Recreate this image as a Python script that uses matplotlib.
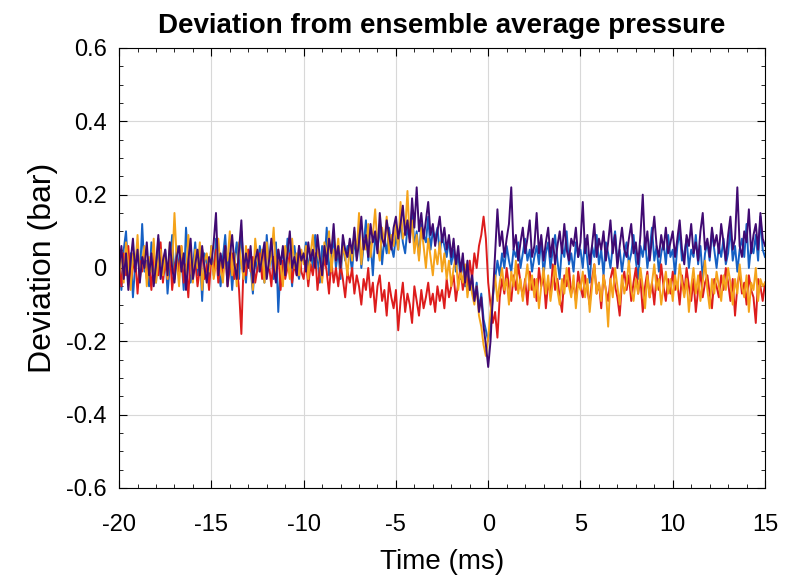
import numpy as np
import matplotlib
matplotlib.use("Agg")
import matplotlib.pyplot as plt
from matplotlib.ticker import MultipleLocator

plt.rcParams['font.family'] = ['Liberation Sans', 'DejaVu Sans']

# one sample every 0.125 ms, values in hundredths of a bar
time_ms = np.linspace(-20, 15, 281)

blue_c = [
    3, -6, 5, 10, -2, 4, -8, 1, 6, -3, 12, -1, 2, -5, 7, 0, -4, 8, 3, -2,
    5, -7, 1, 9, -3, 6, -1, 3, -6, 11, 2, -4, 0, 7, -2, 5, -9, 4, 1, -3,
    6, -2, 8, 0, -5, 3, 9, -1, 4, -6, 2, 7, -3, 10, 1, -4, 5, 0, -7, 3,
    -1, 6, 2, -4, 9, 0, 4, -3, 7, -12, 1, 5, -2, 8, 3, -5, 6, 0, -3, 4,
    2, 7, -1, 5, 0, 9, 3, -4, 6, 1, 11, -2, 4, 8, 0, 5, -3, 7, 2, 6,
    4, -1, 8, 3, 10, 0, 6, 13, 2, 7, -2, 9, 5, 12, 1, 8, 4, 11, 6, 3,
    9, 5, 13, 7, 4, 11, 8, 16, 6, 10, 3, 12, 9, 7, 14, 5, 10, 8, 11, 4,
    9, 6, 3, 8, 1, 5, -1, 4, -3, 2, -5, 0, -6, -2, -9, -4, -11, -7, -14, -17,
    -20, -15, -8, -3, 2, -2, 4, 0, 6, 2, -1, 5, 3, 7, 0, 4, 8, 2, 5, -1,
    3, 6, 1, 8, -2, 4, 7, 0, 5, 9, 2, -3, 6, 3, 10, 1, 4, -1, 7, 3,
    5, 0, 8, 2, -4, 6, 3, 9, 1, 5, -2, 7, 4, 0, 6, 10, 2, 5, -1, 4,
    7, 1, 4, 9, 2, -3, 6, 3, 8, 0, 5, 11, 2, 6, -1, 4, 7, 1, 9, 3,
    5, -2, 6, 10, 2, 4, 8, 0, 5, 3, 9, 1, 6, -3, 4, 7, 2, 10, 5, 0,
    6, 3, 8, 1, 4, 11, 2, 6, -1, 5, 8, 3, 12, 0, 6, 4, 9, 2, 14, 5,
    3,
]

orange_c = [
    -2, 5, -4, 7, 1, -6, 4, 0, 9, -3, 2, 6, -5, 3, -1, 8, -4, 2, 5, -2,
    4, -3, 7, 0, 15, 2, -5, 6, 1, -2, 9, 3, -4, 5, 0, 7, -6, 2, 4, -1,
    6, -3, 1, 8, 0, -4, 5, 2, 10, -2, 4, -5, 7, 1, -3, 6, 0, 3, -6, 8,
    2, -1, 5, -4, 7, 0, 3, 11, -2, 4, 1, -5, 6, 2, -3, 8, 0, 4, -2, 5,
    1, 6, -3, 4, 9, 0, 5, 2, -4, 7, 3, 10, -1, 5, 2, 8, 0, 6, 3, -2,
    7, 2, 10, 4, 15, 1, 8, 5, 12, 3, 9, 16, 6, 2, 11, 7, 14, 4, 9, 6,
    12, 5, 18, 8, 10, 21, 7, 13, 4, 9, 2, 11, 6, 0, 8, 3, -2, 5, 1, 7,
    -1, 4, -3, 2, -5, 0, 3, -6, -1, -4, 1, -8, -3, -7, -10, -5, -13, -16, -21, -24,
    -19, -12, -7, -2, -9, -4, 0, -6, -3, -10, -1, -5, 2, -7, -3, -9, -4, 1, -6, -2,
    -8, -3, -11, -5, 0, -7, -2, -9, -4, 1, -6, -10, -3, -7, 0, -5, -8, -2, -11, -4,
    -6, -1, -8, -3, -12, -5, 1, -7, -4, -9, -2, -6, -16, -3, -8, 0, -5, -10, -2, -7,
    -4, 2, -6, -9, -3, -7, 0, -5, -11, -2, -8, -4, 1, -6, -3, -10, -5, -1, -7, -3,
    -9, -2, -6, 1, -4, -8, -3, -12, -5, 0, -7, -2, -9, -4, 2, -6, -11, -3, -7, -1,
    -5, -9, -2, -6, 0, -4, -10, -3, -7, 1, -5, -8, -2, -12, -4, -6, 0, -9, -3, -5,
    -4,
]

red_c = [
    1, -5, 4, -2, 6, -4, 0, 3, -7, 2, -1, 5, -3, 1, -6, 4, 0, -2, 7, -4,
    2, -3, 5, -6, 0, 3, -1, 6, -4, 1, -8, 4, -2, 2, -5, 0, 5, -3, 1, -6,
    3, -1, 5, -4, 2, -2, 6, -5, 0, 4, -3, 1, -6, -18, 2, -2, 5, -1, 3, -4,
    0, 4, -3, 6, -2, 1, -5, 3, -1, 5, -6, 2, -3, 0, 4, -4, 1, -2, 6, -1,
    -3, 2, -5, 1, -2, 4, -6, 0, -3, 3, -1, -7, 2, -4, 0, -5, 1, -3, -8, -1,
    -4, 0, -7, -2, -5, -10, -3, -6, 0, -8, -4, -12, -5, -2, -9, -6, -13, -4, -8, -11,
    -6, -17, -9, -4, -12, -7, -10, -15, -5, -9, -13, -6, -11, -8, -4, -10, -7, -12, -5, -9,
    -6, -11, -3, -8, -5, -2, -9, -4, 0, -6, -2, -5, 2, -3, 4, 0, 6, 9, 14, 8,
    -4, -10, -15, -12, -19, -8, -3, -7, 0, -5, -9, -2, -6, 1, -4, -8, -3, -10, -1, -6,
    -3, -9, 0, -5, -2, -11, -4, -7, 1, -6, -3, -8, -12, -2, -5, 0, -7, -4, -9, -1,
    -5, -8, -2, -6, -10, -3, 1, -7, -4, -11, -2, -6, -9, -3, 0, -5, -8, -13, -4, -1,
    -6, -2, -9, -4, 0, -7, -3, -12, -5, -1, -8, -4, -10, -2, -6, 1, -5, -9, -3, -7,
    -1, -6, -4, -10, -2, -7, 0, -5, -9, -3, -12, -6, -1, -8, -4, -2, -7, -11, -3, -5,
    -8, -2, -6, 0, -4, -9, -3, -13, -5, -1, -7, -4, -10, -2, -6, -8, -15, -3, -5, -9,
    -4,
]

purple_c = [
    0, 6, -3, 4, -6, 2, 8, -1, 5, -4, 3, 0, 7, -2, 4, -5, 1, 9, -3, 2,
    5, -2, 7, 0, -4, 3, 6, -1, 4, -6, 2, 8, -3, 1, 5, -2, 6, 0, -4, 3,
    1, 7, 15, -2, 4, 0, 6, -5, 3, 9, 1, -3, 5, 13, -1, 4, 0, 6, -4, 2,
    5, -1, 3, 7, -3, 2, 8, 0, -4, 5, 1, 6, -2, 4, 10, 0, 3, -2, 6, 2,
    4, -1, 7, 2, 5, 0, 9, 3, -2, 6, 1, 8, 4, 12, 2, 6, 0, 9, 5, 3,
    8, 4, 11, 2, 7, 14, 5, 9, 3, 12, 7, 10, 4, 15, 8, 6, 13, 9, 5, 11,
    14, 8, 12, 17, 9, 13, 7, 19, 11, 22, 10, 15, 8, 13, 18, 9, 12, 6, 10, 14,
    7, 11, 5, 9, 3, 8, 1, 6, -1, 4, -4, 2, -6, -2, -9, -5, -12, -8, -16, -21,
    -27, -20, -8, 4, 16, 6, 10, 3, 8, 12, 22, 5, 9, 2, 7, 11, 4, 8, 13, 3,
    6, 15, 4, 9, 2, 7, 11, 3, 8, 1, 6, 10, 4, 12, 5, 2, 8, 6, 11, 3,
    7, 18, 4, 9, 1, 6, 12, 3, 8, 5, 10, 2, 7, 13, 4, 9, 0, 6, 11, 5,
    3, 8, 12, 4, 7, 1, 9, 20, 5, 10, 2, 8, 14, 6, 3, 9, 5, 11, 4, 7,
    10, 3, 8, 13, 5, 1, 9, 6, 12, 4, 7, 2, 10, 15, 5, 8, 3, 11, 6, 9,
    4, 12, 7, 2, 9, 14, 5, 8, 22, 6, 3, 10, 7, 16, 4, 9, 12, 5, 15, 8,
    6,
]

blue = np.array(blue_c) / 100
orange = np.array(orange_c) / 100
red = np.array(red_c) / 100
purple = np.array(purple_c) / 100

fig = plt.figure(figsize=(7.94, 5.83), dpi=100)
ax = fig.add_axes([0.150, 0.163, 0.8135, 0.7547])

ax.plot(time_ms, blue, color='#1560c4', lw=1.4)
ax.plot(time_ms, red, color='#dd1c1c', lw=1.4)
ax.plot(time_ms, orange, color='#f5a31a', lw=1.4)
ax.plot(time_ms, purple, color='#400a72', lw=1.4)

ax.set_xlim(-20, 15)
ax.set_ylim(-0.6, 0.6)
ax.xaxis.set_minor_locator(MultipleLocator(1))
ax.yaxis.set_minor_locator(MultipleLocator(0.05))
ax.set_yticks([-0.6, -0.4, -0.2, 0, 0.2, 0.4, 0.6])
ax.set_yticklabels(['-0.6', '-0.4', '-0.2', '0', '0.2', '0.4', '0.6'])
ax.set_xticks([-20, -15, -10, -5, 0, 5, 10, 15])
ax.set_xticklabels(['-20', '-15', '-10', '-5', '0', '5', '10', '15'])
ax.tick_params(which='both', direction='in', top=True, right=True, labelsize=17)
ax.tick_params(axis='x', pad=19)
ax.tick_params(axis='y', pad=9)
ax.tick_params(which='major', length=6)
ax.tick_params(which='minor', length=3)
ax.grid(True, which='major', color='#d8d8d8', lw=0.8)
ax.set_axisbelow(True)

ax.set_title('Deviation from ensemble average pressure', fontsize=20, fontweight='bold', pad=11)
ax.set_xlabel('Time (ms)', fontsize=20, labelpad=9)
ax.set_ylabel('Deviation (bar)', fontsize=23, labelpad=6)

fig.savefig('out.png', dpi=100)
